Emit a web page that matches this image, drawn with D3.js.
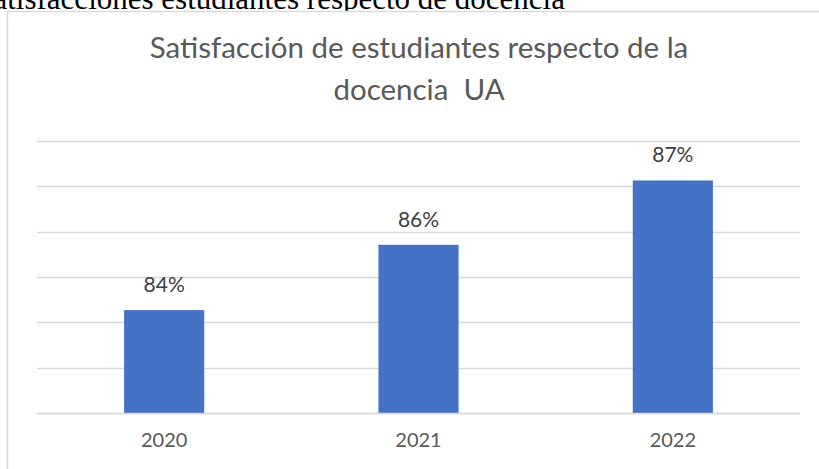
<!DOCTYPE html>
<html>
<head>
<meta charset="utf-8">
<script src="https://cdn.jsdelivr.net/npm/d3@7"></script>
<style>
    html, body { margin: 0; padding: 0; background: #fff; overflow: hidden; }
    svg { display: block; }
</style>
</head>
<body>
<svg id="chart" width="819" height="469"></svg>
<script>
'use strict';

// values
const years = ['2020', '2021', '2022'];
const satisfaction = [84.27, 85.71, 87.13];
const valueLabels = ['84%', '86%', '87%'];
const yTicks = [82, 83, 84, 85, 86, 87, 88];
const titleLines = ['Satisfacción de estudiantes respecto de la', 'docencia  UA'];
const captionText = 'Satisfacciones estudiantes respecto de docencia';

const width = 819;
const height = 469;
const plot = { left: 37, right: 800, top: 141, bottom: 413 };

const svg = d3.select('#chart');

// document caption behind the chart (cut off by the window, as in the source)
svg.append('text')
    .attr('x', 565)
    .attr('y', 9)
    .attr('text-anchor', 'end')
    .style('font-family', '"Liberation Serif", "Times New Roman", serif')
    .style('font-size', '31px')
    .style('fill', '#000')
    .text(captionText);

// chart frame
svg.append('rect')
    .attr('x', 7.5)
    .attr('y', 11.5)
    .attr('width', width)
    .attr('height', height)
    .attr('fill', '#fff')
    .attr('stroke', '#d9d9d9')
    .attr('stroke-width', 1.5);

const x = d3.scaleBand()
    .domain(years)
    .range([plot.left, plot.right])
    .paddingInner(0.685)
    .paddingOuter(0.3425);

const y = d3.scaleLinear()
    .domain([d3.min(yTicks), d3.max(yTicks)])
    .range([plot.bottom, plot.top]);

// gridlines
svg.append('g')
    .attr('class', 'grid')
    .selectAll('line')
    .data(yTicks)
    .join('line')
    .attr('x1', plot.left)
    .attr('x2', plot.right)
    .attr('y1', d => Math.round(y(d)) + 0.5)
    .attr('y2', d => Math.round(y(d)) + 0.5)
    .attr('stroke', '#d9d9d9')
    .attr('stroke-width', 1.3);

// bars
svg.append('g')
    .selectAll('rect')
    .data(years)
    .join('rect')
    .attr('x', d => x(d))
    .attr('width', x.bandwidth())
    .attr('y', (d, i) => y(satisfaction[i]))
    .attr('height', (d, i) => y(d3.min(yTicks)) - y(satisfaction[i]))
    .attr('fill', '#4472c4');

// baseline over the bars
svg.append('line')
    .attr('x1', plot.left)
    .attr('x2', plot.right)
    .attr('y1', Math.round(y(d3.min(yTicks))) + 0.5)
    .attr('y2', Math.round(y(d3.min(yTicks))) + 0.5)
    .attr('stroke', '#d9d9d9')
    .attr('stroke-width', 1.3);

const font = 'Lato, "Open Sans", sans-serif';

// value labels
svg.append('g')
    .selectAll('text')
    .data(years)
    .join('text')
    .attr('x', d => x(d) + x.bandwidth() / 2)
    .attr('y', (d, i) => y(satisfaction[i]) - 18)
    .attr('text-anchor', 'middle')
    .style('font-family', font)
    .style('font-size', '21px')
    .style('fill', '#404040')
    .text((d, i) => valueLabels[i]);

// category axis
const xAxis = svg.append('g')
    .attr('transform', `translate(0, ${plot.bottom})`)
    .call(d3.axisBottom(x).tickSize(0).tickPadding(20));

xAxis.select('.domain').remove();
xAxis.selectAll('text')
    .style('font-family', font)
    .style('font-size', '20px')
    .style('fill', '#595959');

// title
svg.append('g')
    .selectAll('text')
    .data(titleLines)
    .join('text')
    .attr('x', (plot.left + plot.right) / 2 + 0.5)
    .attr('y', (d, i) => 58 + i * 42)
    .attr('text-anchor', 'middle')
    .style('font-family', font)
    .style('font-size', '29.5px')
    .style('fill', '#595959')
    .style('white-space', 'pre')
    .text(d => d);
</script>
</body>
</html>
